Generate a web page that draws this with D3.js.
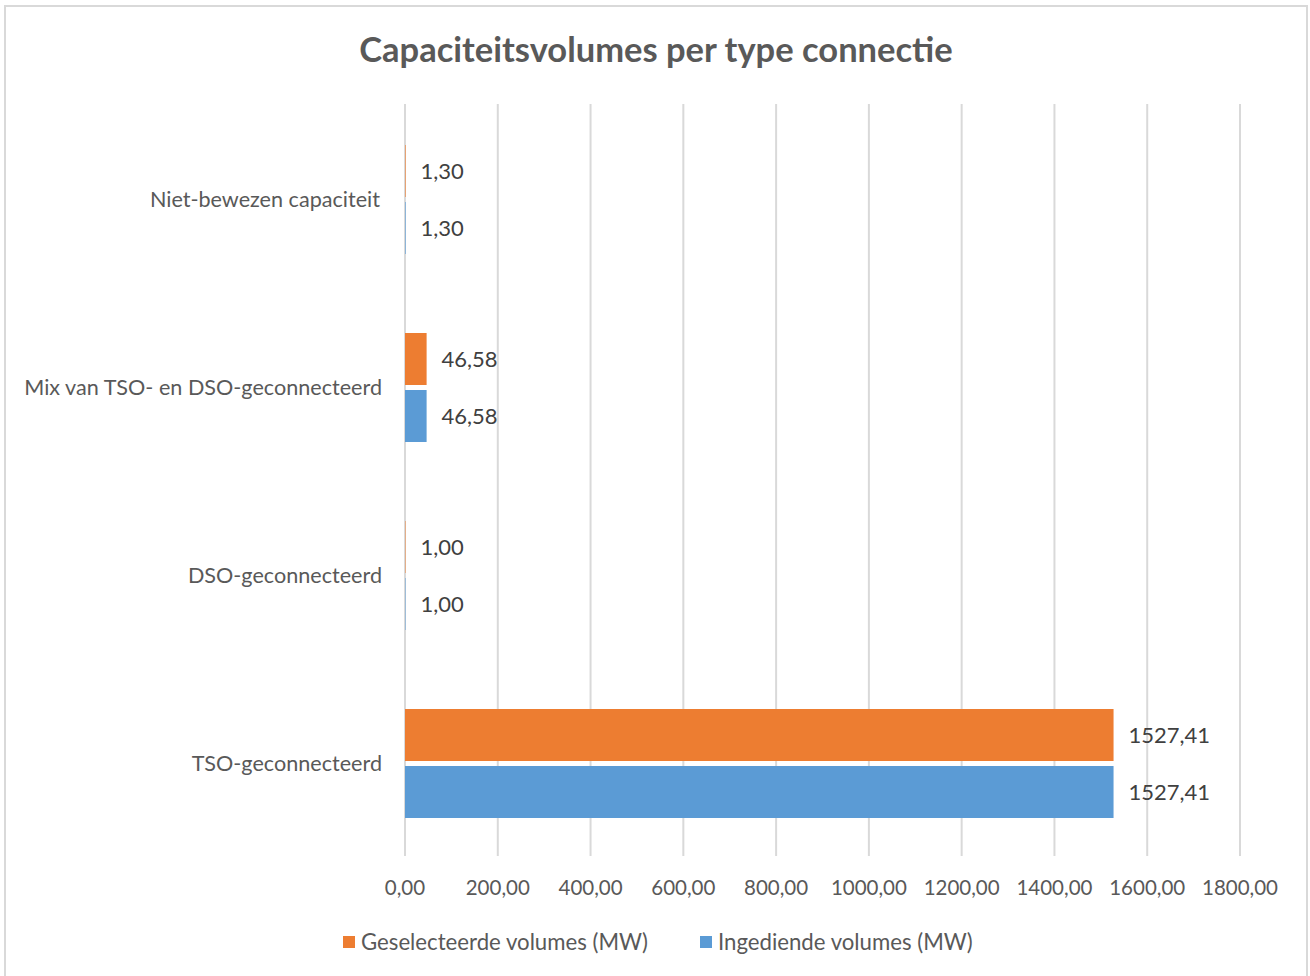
<!DOCTYPE html>
<html><head><meta charset="utf-8">
<script src="https://cdn.jsdelivr.net/npm/d3@7/dist/d3.min.js"></script>
<style>html,body{margin:0;padding:0;background:#fff;}svg{display:block;}</style>
</head><body>
<script>
const categories = ["Niet-bewezen capaciteit","Mix van TSO- en DSO-geconnecteerd","DSO-geconnecteerd","TSO-geconnecteerd"];
const seriesNames = ["Geselecteerde volumes (MW)","Ingediende volumes (MW)"];
const geselecteerd = [1.30, 46.58, 1.00, 1527.41];
const ingediend = [1.30, 46.58, 1.00, 1527.41];
const ticks = [0,200,400,600,800,1000,1200,1400,1600,1800];
const colors = ["#ED7D31","#5B9BD5"];

const W=1310,H=976;
const font = "Lato, 'Open Sans', sans-serif";
const svg = d3.select("body").append("svg").attr("width",W).attr("height",H);
svg.append("rect").attr("x",5).attr("y",6).attr("width",1302).attr("height",H+10)
  .attr("fill","#fff").attr("stroke","#d9d9d9").attr("stroke-width",2);

const x = d3.scaleLinear().domain([0,1800]).range([405,1240]);
const y = d3.scaleBand().domain(categories).range([105.5,857.5]).paddingInner(0).paddingOuter(0);
const series = [geselecteerd, ingediend];

svg.append("text").attr("x",656).attr("y",62).attr("text-anchor","middle")
  .attr("font-family",font).attr("font-weight","bold").attr("font-size",34.5).attr("fill","#595959")
  .text("Capaciteitsvolumes per type connectie");

// gridlines
svg.append("g").selectAll("line").data(ticks).join("line")
  .attr("x1",d=>x(d)).attr("x2",d=>x(d)).attr("y1",104).attr("y2",856)
  .attr("stroke","#d9d9d9").attr("stroke-width",2);

// bars
const barH = 52, gapB = 5;
categories.forEach((c,i)=>{
  const center = y(c)+y.bandwidth()/2;
  series.forEach((s,j)=>{
    const top = j===0 ? center - gapB/2 - barH : center + gapB/2;
    svg.append("rect").attr("x",x(0)).attr("y",top).attr("width",x(s[i])-x(0)).attr("height",barH)
      .attr("fill",colors[j]);
    svg.append("text").attr("x",x(s[i])+15).attr("y",top+barH/2).attr("dy","0.35em")
      .attr("font-family",font).attr("font-size",22).attr("fill","#404040")
      .text(d3.format(".2f")(s[i]).replace(".",","));
  });
  svg.append("text").attr("x",i===0?380:382).attr("y",center).attr("dy","0.35em").attr("text-anchor","end")
    .attr("font-family",font).attr("font-size",21.6).attr("fill","#595959").text(c);
});

// x tick labels
svg.append("g").selectAll("text").data(ticks).join("text")
  .attr("x",d=>x(d)).attr("y",888).attr("dy","0.35em").attr("text-anchor","middle")
  .attr("font-family",font).attr("font-size",20.5).attr("fill","#595959")
  .text(d=>d3.format(".2f")(d).replace(".",","));

// legend
const leg = [{x:343,t:seriesNames[0],c:colors[0]},{x:700,t:seriesNames[1],c:colors[1]}];
leg.forEach(l=>{
  svg.append("rect").attr("x",l.x).attr("y",936).attr("width",12).attr("height",12).attr("fill",l.c);
  svg.append("text").attr("x",l.x+18).attr("y",942).attr("dy","0.35em")
    .attr("font-family",font).attr("font-size",22.2).attr("fill","#595959").text(l.t);
});
</script>
</body></html>
